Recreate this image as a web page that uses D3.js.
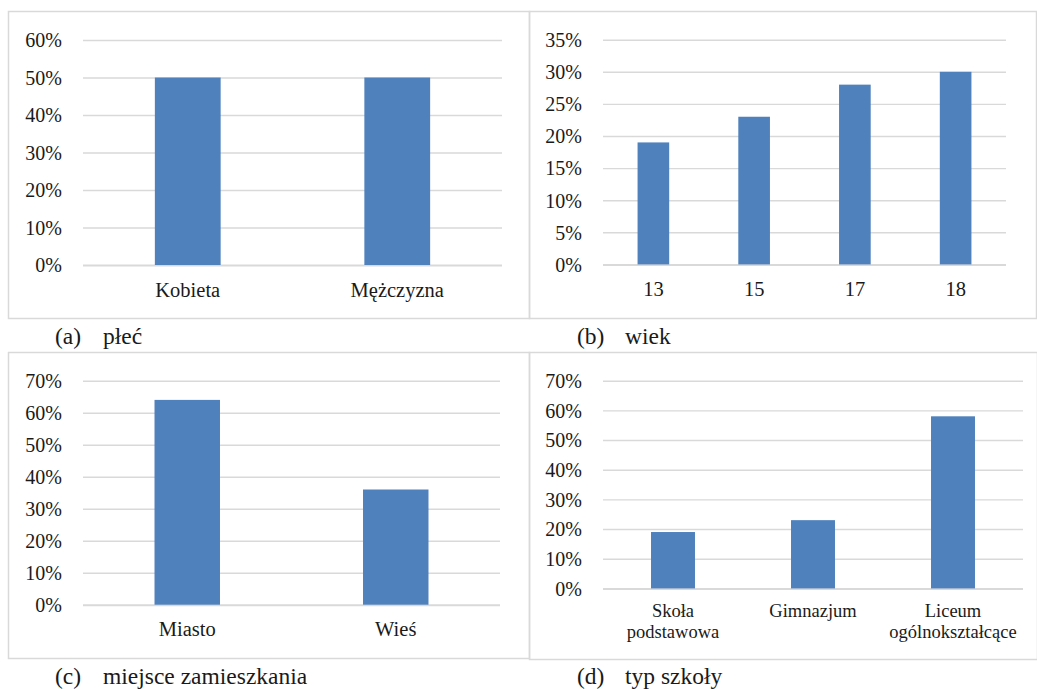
<!DOCTYPE html>
<html>
<head>
<meta charset="utf-8">
<script src="https://cdn.jsdelivr.net/npm/d3@7/dist/d3.min.js"></script>
<style>
  html, body { margin: 0; padding: 0; background: #ffffff; }
  svg text { font-family: "Liberation Serif", "Times New Roman", Times, serif; }
</style>
</head>
<body>
<svg id="chart" width="1037" height="689"></svg>
<script>
// (a) płeć
const sexCategories = ["Kobieta", "Mężczyzna"];
const sexValues = [50, 50];
const sexTicks = [0, 10, 20, 30, 40, 50, 60];

// (b) wiek
const ageCategories = ["13", "15", "17", "18"];
const ageValues = [19, 23, 28, 30];
const ageTicks = [0, 5, 10, 15, 20, 25, 30, 35];

// (c) miejsce zamieszkania
const residenceCategories = ["Miasto", "Wieś"];
const residenceValues = [64, 36];
const residenceTicks = [0, 10, 20, 30, 40, 50, 60, 70];

// (d) typ szkoły
const schoolCategories = ["Skoła\npodstawowa", "Gimnazjum", "Liceum\nogólnokształcące"];
const schoolValues = [19, 23, 58];
const schoolTicks = [0, 10, 20, 30, 40, 50, 60, 70];

const captionLetters = ["(a)", "(b)", "(c)", "(d)"];
const captionTitles = ["płeć", "wiek", "miejsce zamieszkania", "typ szkoły"];

const BAR_COLOR = "#4f81bd";
const GRID_COLOR = "#d9d9d9";
const TEXT_COLOR = "#1a1a1a";
const SERIF = '"Liberation Serif", "Times New Roman", Times, serif';

const svg = d3.select("#chart");

// layout of the four framed panels
const panels = [
  { cats: sexCategories, vals: sexValues, ticks: sexTicks,
    frame: [8, 11, 529, 318], plot: [83, 502, 40, 265], labelSize: 20.5, labelGap: 32,
    caption: [55, 103, 344] },
  { cats: ageCategories, vals: ageValues, ticks: ageTicks,
    frame: [529, 11, 1036, 318], plot: [603, 1006, 39.7, 264.4], labelSize: 20.5, labelGap: 32,
    caption: [577, 625, 344] },
  { cats: residenceCategories, vals: residenceValues, ticks: residenceTicks,
    frame: [8, 352, 529, 658], plot: [83, 500, 380.7, 604.7], labelSize: 20.5, labelGap: 31,
    caption: [55, 103, 684] },
  { cats: schoolCategories, vals: schoolValues, ticks: schoolTicks,
    frame: [529, 352, 1037, 659], plot: [603, 1023, 380.7, 588.4], labelSize: 18.5, labelGap: 29,
    caption: [577, 625, 684] }
];

panels.forEach((p, i) => {
  const [fx0, fy0, fx1, fy1] = p.frame;
  const [x0, x1, yTop, yBottom] = p.plot;

  // panel frame
  svg.append("rect")
    .attr("x", fx0 + 0.5).attr("y", fy0 + 0.5)
    .attr("width", fx1 - fx0).attr("height", fy1 - fy0)
    .attr("fill", "none")
    .attr("stroke", GRID_COLOR)
    .attr("stroke-width", 1.5);

  const y = d3.scaleLinear()
    .domain([0, d3.max(p.ticks)])
    .range([yBottom, yTop]);

  const pad = 0.686;
  const x = d3.scaleBand()
    .domain(p.cats)
    .range([x0, x1])
    .paddingInner(pad)
    .paddingOuter(pad / 2);

  // value axis with horizontal gridlines
  const yAxis = svg.append("g")
    .attr("transform", `translate(${x0},0)`)
    .call(d3.axisLeft(y)
      .tickValues(p.ticks)
      .tickSize(-(x1 - x0))
      .tickPadding(21)
      .tickFormat(d => d + "%"));
  yAxis.attr("font-family", SERIF).attr("font-size", 20);
  yAxis.select(".domain").remove();
  yAxis.selectAll(".tick line").attr("stroke", GRID_COLOR)
    .attr("stroke-width", d => d === 0 ? 2 : 1.4);
  yAxis.selectAll(".tick text")
    .attr("fill", TEXT_COLOR)
    .attr("font-family", SERIF)
    .attr("font-size", 20)
    .attr("dy", "0.34em");

  // bars
  svg.append("g")
    .selectAll("rect")
    .data(p.cats.map((c, j) => ({ cat: c, val: p.vals[j] })))
    .join("rect")
    .attr("x", d => x(d.cat))
    .attr("width", x.bandwidth())
    .attr("y", d => y(d.val))
    .attr("height", d => y(0) - y(d.val))
    .attr("fill", BAR_COLOR);

  // category labels (may span two lines)
  const labels = svg.append("g")
    .selectAll("text")
    .data(p.cats)
    .join("text")
    .attr("x", d => x(d) + x.bandwidth() / 2)
    .attr("y", yBottom + p.labelGap)
    .attr("text-anchor", "middle")
    .attr("fill", TEXT_COLOR)
    .attr("font-family", SERIF)
    .attr("font-size", p.labelSize);
  labels.each(function(d) {
    const lines = d.split("\n");
    const t = d3.select(this);
    lines.forEach((ln, k) => {
      t.append("tspan")
        .attr("x", x(d) + x.bandwidth() / 2)
        .attr("dy", k === 0 ? 0 : 21)
        .text(ln);
    });
  });

  // caption beneath the frame
  const [cx0, cx1, cy] = p.caption;
  svg.append("text")
    .attr("x", cx0).attr("y", cy)
    .attr("fill", TEXT_COLOR)
    .attr("font-family", SERIF)
    .attr("font-size", 23.5)
    .text(captionLetters[i]);
  svg.append("text")
    .attr("x", cx1).attr("y", cy)
    .attr("fill", TEXT_COLOR)
    .attr("font-family", SERIF)
    .attr("font-size", 23.5)
    .text(captionTitles[i]);
});
</script>
</body>
</html>
